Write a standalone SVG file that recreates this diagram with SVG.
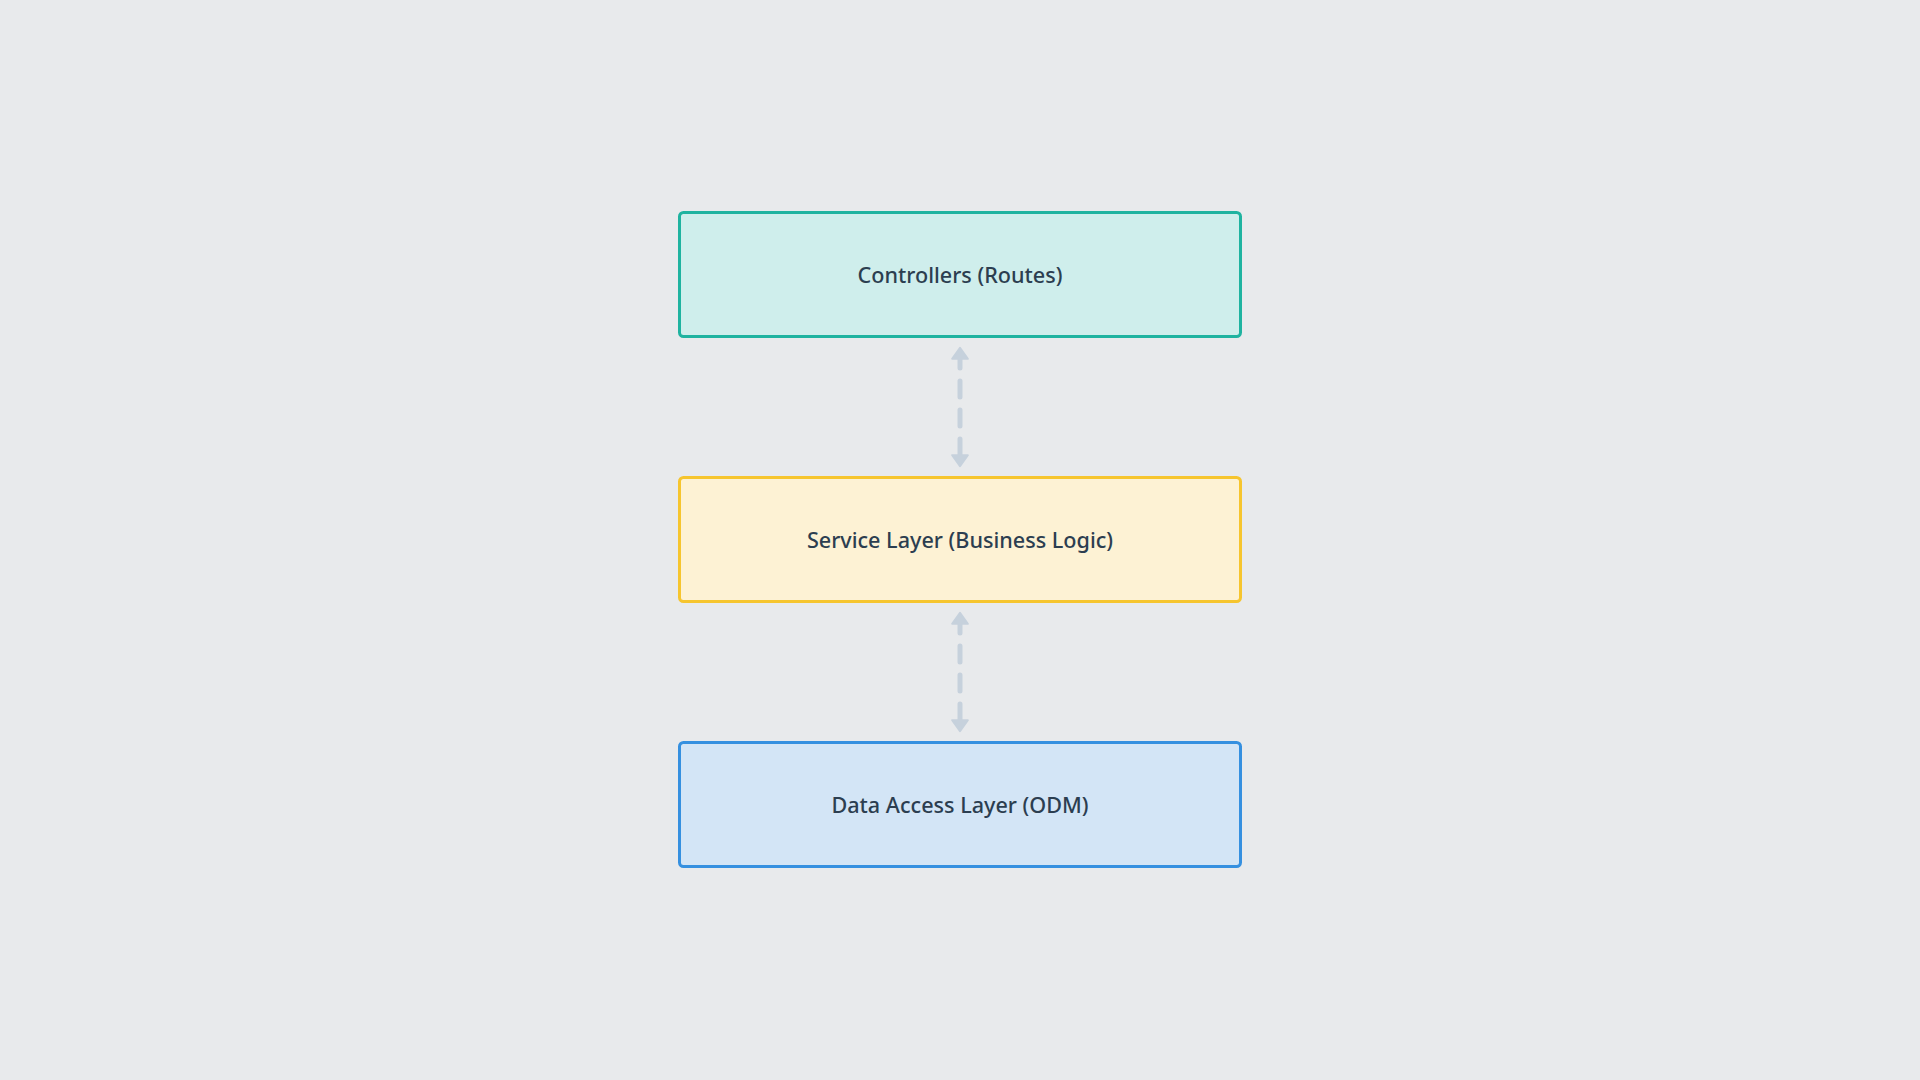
<svg xmlns="http://www.w3.org/2000/svg" width="1920" height="1080" viewBox="0 0 1920 1080">
<defs>
<style>
.node rect{stroke-width:3}
.label{font-family:"Noto Sans","Open Sans",sans-serif;font-size:21.6px;font-weight:500;fill:#2c3e50;text-anchor:middle;dominant-baseline:central}
.conn{stroke:#c6d1dc;stroke-width:5;stroke-linecap:round;stroke-dasharray:10 13 16 13 16 13 16;fill:none}
</style>
<marker id="ah" viewBox="-1 -1 9 12" refX="0.5" refY="5" markerWidth="3" markerHeight="4" orient="auto-start-reverse" markerUnits="strokeWidth">
<path d="M0,0.3 L6.6,5 L0,9.7 Z" fill="#c6d1dc" stroke="#c6d1dc" stroke-width="1.2" stroke-linejoin="round"/>
</marker>
</defs>
<rect width="1920" height="1080" fill="#e8eaec"/>
<g id="connectors">
<line class="conn" x1="960" y1="358" x2="960" y2="456" marker-start="url(#ah)" marker-end="url(#ah)"/>
<line class="conn" x1="960" y1="623" x2="960" y2="721" marker-start="url(#ah)" marker-end="url(#ah)"/>
</g>
<g id="controllers" class="node">
<rect x="679.5" y="212.5" width="561" height="124" rx="4" fill="#cfeeec" stroke="#1fb3a0"/>
<text class="label" x="960" y="274">Controllers (Routes)</text>
</g>
<g id="service" class="node">
<rect x="679.5" y="477.5" width="561" height="124" rx="4" fill="#fdf2d4" stroke="#f6c52e"/>
<text class="label" x="960" y="539">Service Layer (Business Logic)</text>
</g>
<g id="data-access" class="node">
<rect x="679.5" y="742.5" width="561" height="124" rx="4" fill="#d3e5f6" stroke="#3590e0"/>
<text class="label" x="960" y="804">Data Access Layer (ODM)</text>
</g>
</svg>
